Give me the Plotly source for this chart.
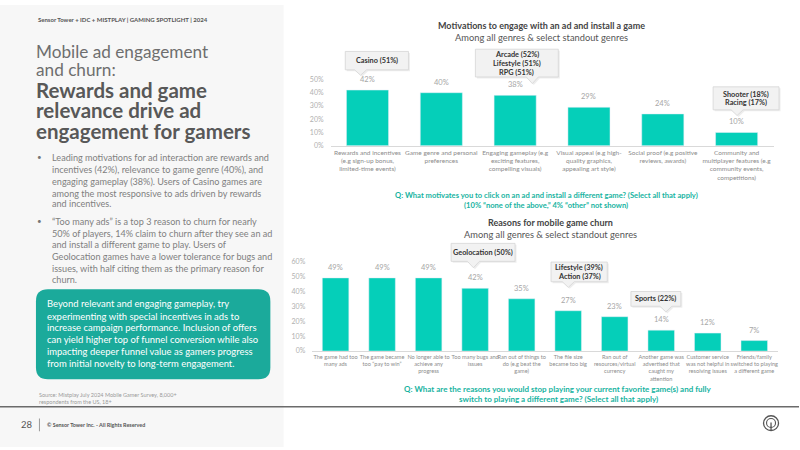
import plotly.graph_objects as go

# ---------------- data ----------------
top_categories = [
    "Rewards and incentives<br>(e.g sign-up bonus,<br>limited-time events)",
    "Game genre and personal<br>preferences",
    "Engaging gameplay (e.g<br>exciting features,<br>compelling visuals)",
    "Visual appeal (e.g high-<br>quality graphics,<br>appealing art style)",
    "Social proof (e.g positive<br>reviews, awards)",
    "Community and<br>multiplayer features (e.g<br>community events,<br>competitions)",
]
top_values = [0.42, 0.40, 0.38, 0.29, 0.24, 0.10]

bottom_categories = [
    "The game had too<br>many ads",
    "The game became<br>too “pay to win”",
    "No longer able to<br>achieve any<br>progress",
    "Too many bugs and<br>issues",
    "Ran out of things to<br>do (e.g beat the<br>game)",
    "The file size<br>became too big",
    "Ran out of<br>resources/virtual<br>currency",
    "Another game was<br>advertised that<br>caught my<br>attention",
    "Customer service<br>was not helpful in<br>resolving issues",
    "Friends/family<br>switched to playing<br>a different game",
]
bottom_values = [0.49, 0.49, 0.49, 0.42, 0.35, 0.27, 0.23, 0.14, 0.12, 0.07]

top_ticks = [0, 0.1, 0.2, 0.3, 0.4, 0.5]
bottom_ticks = [0, 0.1, 0.2, 0.3, 0.4, 0.5, 0.6]

top_callouts = ["Casino (51%)", "Arcade (52%)<br>Lifestyle (51%)<br>RPG (51%)", "Shooter (18%)<br>Racing (17%)"]
bottom_callouts = ["Geolocation (50%)", "Lifestyle (39%)<br>Action (37%)", "Sports (22%)"]

header = "Sensor Tower + IDC + MISTPLAY | GAMING SPOTLIGHT | 2024"
title_light = ["Mobile ad engagement", "and churn:"]
title_bold = ["Rewards and game", "relevance drive ad", "engagement for gamers"]
bullet1 = [
    "Leading motivations for ad interaction are rewards and",
    "incentives (42%), relevance to game genre (40%), and",
    "engaging gameplay (38%). Users of Casino games are",
    "among the most responsive to ads driven by rewards",
    "and incentives.",
]
bullet2 = [
    "“Too many ads” is a top 3 reason to churn for nearly",
    "50% of players, 14% claim to churn after they see an ad",
    "and install a different game to play. Users of",
    "Geolocation games have a lower tolerance for bugs and",
    "issues, with half citing them as the primary reason for",
    "churn.",
]
box_lines = [
    "Beyond relevant and engaging gameplay, try",
    "experimenting with special incentives in ads to",
    "increase campaign performance. Inclusion of offers",
    "can yield higher top of funnel conversion while also",
    "impacting deeper funnel value as gamers progress",
    "from initial novelty to long-term engagement.",
]
source_lines = ["Source: Mistplay July 2024 Mobile Gamer Survey, 8,000+", "respondents from the US, 18+"]

# ---------------- helpers ----------------
W, H = 800, 450
FONT = "Lato, 'Source Sans Pro', sans-serif"
BAR = "#05cfb9"
TEAL_BOX = "#1baa9b"
TEAL_TXT = "#17b3a1"


def X(p):
    return p / W


def Y(p):
    return 1 - p / H


annotations = []
shapes = []


def txt(x, y, s, size, color, bold=False, anchor="left", yanchor="middle"):
    annotations.append(dict(
        x=X(x), y=Y(y), xref="paper", yref="paper", text=("<b>%s</b>" % s) if bold else s,
        showarrow=False, xanchor=anchor, yanchor=yanchor, borderpad=0,
        font=dict(family=FONT, size=size, color=color),
    ))


def rounded(x0, y0, x1, y1, r):
    pts = [
        f"M{X(x0 + r)},{Y(y0)}", f"L{X(x1 - r)},{Y(y0)}", f"Q{X(x1)},{Y(y0)} {X(x1)},{Y(y0 + r)}",
        f"L{X(x1)},{Y(y1 - r)}", f"Q{X(x1)},{Y(y1)} {X(x1 - r)},{Y(y1)}",
        f"L{X(x0 + r)},{Y(y1)}", f"Q{X(x0)},{Y(y1)} {X(x0)},{Y(y1 - r)}",
        f"L{X(x0)},{Y(y0 + r)}", f"Q{X(x0)},{Y(y0)} {X(x0 + r)},{Y(y0)}", "Z",
    ]
    return " ".join(pts)


def callout(x0, y0, x1, y1, tipx, tipy, text, line_ys):
    half = 6
    path = (f"M{X(x0)},{Y(y0)} L{X(x1)},{Y(y0)} L{X(x1)},{Y(y1)} L{X(tipx + half)},{Y(y1)} "
            f"L{X(tipx)},{Y(tipy)} L{X(tipx - half)},{Y(y1)} L{X(x0)},{Y(y1)} Z")
    spath = (f"M{X(x0 + 1.5)},{Y(y0 + 1.5)} L{X(x1 + 1.5)},{Y(y0 + 1.5)} L{X(x1 + 1.5)},{Y(y1 + 1.5)} "
             f"L{X(tipx + half + 1.5)},{Y(y1 + 1.5)} L{X(tipx + 1.5)},{Y(tipy + 1.5)} "
             f"L{X(tipx - half + 1.5)},{Y(y1 + 1.5)} L{X(x0 + 1.5)},{Y(y1 + 1.5)} Z")
    shapes.append(dict(type="path", path=spath, xref="paper", yref="paper",
                       fillcolor="rgba(0,0,0,0.07)", line=dict(width=0), layer="above"))
    shapes.append(dict(type="path", path=path, xref="paper", yref="paper",
                       fillcolor="#f2f2f2", line=dict(color="#d6d6d6", width=0.8), layer="above"))
    for s, ly in zip(text.split("<br>"), line_ys):
        txt((x0 + x1) / 2, ly, s, 7.3, "#333333", bold=True, anchor="center")


# ---------------- figure ----------------
fig = go.Figure()
fig.add_trace(go.Bar(x=top_categories, y=top_values, marker=dict(color=BAR), xaxis="x", yaxis="y",
                     hoverinfo="skip"))
fig.add_trace(go.Bar(x=bottom_categories, y=bottom_values, marker=dict(color=BAR), xaxis="x2", yaxis="y2",
                     hoverinfo="skip"))

# data labels
for c, v in zip(top_categories, top_values):
    annotations.append(dict(x=c, y=v, xref="x", yref="y", text=f"{round(v * 100)}%", showarrow=False,
                            yanchor="bottom", yshift=4, font=dict(family=FONT, size=7.5, color="#a6a6a6")))
for c, v in zip(bottom_categories, bottom_values):
    annotations.append(dict(x=c, y=v, xref="x2", yref="y2", text=f"{round(v * 100)}%", showarrow=False,
                            yanchor="bottom", yshift=4, font=dict(family=FONT, size=7.5, color="#a6a6a6")))

# left panel background
shapes.append(dict(type="rect", xref="paper", yref="paper", x0=0, x1=X(284), y0=0, y1=1,
                   fillcolor="#f7f7f7", line=dict(width=0), layer="below"))
# bottom rule
shapes.append(dict(type="line", xref="paper", yref="paper", x0=0, x1=1, y0=Y(409), y1=Y(409),
                   line=dict(color="#6b6b6b", width=1.5)))
# teal box
shapes.append(dict(type="path", xref="paper", yref="paper", path=rounded(36, 289.5, 270.7, 381, 12),
                   fillcolor=TEAL_BOX, line=dict(width=0)))
# footer separator
shapes.append(dict(type="line", xref="paper", yref="paper", x0=X(39.5), x1=X(39.5), y0=Y(421), y1=Y(434),
                   line=dict(color="#9a9a9a", width=1)))
# icon
shapes.append(dict(type="circle", xref="paper", yref="paper", x0=X(764.5), x1=X(779.5), y0=Y(433.2), y1=Y(418.2),
                   line=dict(color="#555555", width=1.3)))
shapes.append(dict(type="circle", xref="paper", yref="paper", x0=X(767.5), x1=X(776.5), y0=Y(430), y1=Y(421),
                   line=dict(color="#555555", width=1.1)))
shapes.append(dict(type="line", xref="paper", yref="paper", x0=X(772), x1=X(772), y0=Y(433), y1=Y(425),
                   line=dict(color="#555555", width=1.3)))

# left texts
txt(37, 15, header, 6, "#555555", bold=True)
for s, y in zip(title_light, [47.7, 65.7]):
    txt(35.5, y, s, 17.2, "#6e6e6e")
for s, y in zip(title_bold, [86.3, 107.3, 128.3]):
    txt(35.5, y, s, 20.5, "#585858", bold=True)

txt(40, 155, "•", 8, "#777777", anchor="center")
for s, y in zip(bullet1, [155, 167.2, 179.3, 191.5, 202.6]):
    txt(51.5, y, s, 9.1, "#7f7f7f")
txt(40, 220, "•", 8, "#777777", anchor="center")
for s, y in zip(bullet2, [220, 232.2, 244.3, 256.3, 268.3, 279.8]):
    txt(51.5, y, s, 9.1, "#7f7f7f")

for s, y in zip(box_lines, [304.3, 316.7, 328.7, 340.7, 352.5, 364.5]):
    txt(46.5, y, s, 9.45, "#ffffff")

for s, y in zip(source_lines, [396.6, 404.2]):
    txt(38, y, s, 5.5, "#9a9a9a")

txt(20.5, 427.5, "28", 9.5, "#555555")
txt(46.5, 428, "© Sensor Tower Inc. - All Rights Reserved", 5.4, "#555555", bold=True)

# right titles
txt(542.5, 21, "Motivations to engage with an ad and install a game", 9, "#444444", bold=True, anchor="center")
txt(542.5, 33.5, "Among all genres & select standout genres", 9.3, "#555555", anchor="center")
txt(547, 193.3, "Q: What motivates you to click on an ad and install a different game? (Select all that apply)",
    7.6, TEAL_TXT, bold=True, anchor="center")
txt(547, 203.3, "(10% “none of the above,” 4% “other” not shown)", 7.6, TEAL_TXT, bold=True, anchor="center")
txt(551.5, 221.7, "Reasons for mobile game churn", 9, "#444444", bold=True, anchor="center")
txt(551.5, 234, "Among all genres & select standout genres", 9.3, "#555555", anchor="center")
txt(559, 391, "Q: What are the reasons you would stop playing your current favorite game(s) and fully",
    8, TEAL_TXT, bold=True, anchor="center")
txt(559, 401, "switch to playing a different game? (Select all that apply)", 8, TEAL_TXT, bold=True, anchor="center")

# callouts
callout(345.7, 47.3, 409, 66, 361, 71.5, top_callouts[0], [56.7])
callout(476, 45, 559, 73.3, 533, 80, top_callouts[1], [50, 59.3, 69])
callout(714, 83.3, 780, 106.7, 738, 112.5, top_callouts[2], [90.7, 99.5])
callout(451.7, 242.7, 515.7, 261, 474, 267.5, bottom_callouts[0], [252])
callout(551.7, 261.7, 608, 281.7, 569, 287.5, bottom_callouts[1], [267.3, 276])
callout(631.7, 291.7, 681.7, 306.7, 666.7, 312.5, bottom_callouts[2], [299])

fig.update_layout(
    width=W, height=H, margin=dict(l=0, r=0, t=0, b=0),
    paper_bgcolor="#ffffff", plot_bgcolor="rgba(0,0,0,0)",
    showlegend=False, bargap=0.43,
    font=dict(family=FONT),
    xaxis=dict(domain=[X(331), X(774.5)], anchor="y", showline=True, linecolor="#d9d9d9", linewidth=1,
               ticks="", tickfont=dict(size=6.5, color="#8c8c8c"), tickangle=0, fixedrange=True),
    yaxis=dict(domain=[Y(143.3), Y(75.8)], anchor="x", range=[0, 0.5], tickvals=top_ticks,
               tickformat=".0%", showgrid=False, zeroline=False, showline=False,
               tickfont=dict(size=7, color="#b0b0b0"), ticklabelstandoff=6),
    xaxis2=dict(domain=[X(312.7), X(778.5)], anchor="y2", showline=True, linecolor="#d9d9d9", linewidth=1,
                ticks="", tickfont=dict(size=5.6, color="#8c8c8c"), tickangle=0),
    yaxis2=dict(domain=[Y(352.3), Y(261.1)], anchor="x2", range=[0, 0.6], tickvals=bottom_ticks,
                tickformat=".0%", showgrid=False, zeroline=False, showline=False,
                tickfont=dict(size=7, color="#b0b0b0"), ticklabelstandoff=6),
    annotations=annotations, shapes=shapes,
)

fig.write_html("out.html")
